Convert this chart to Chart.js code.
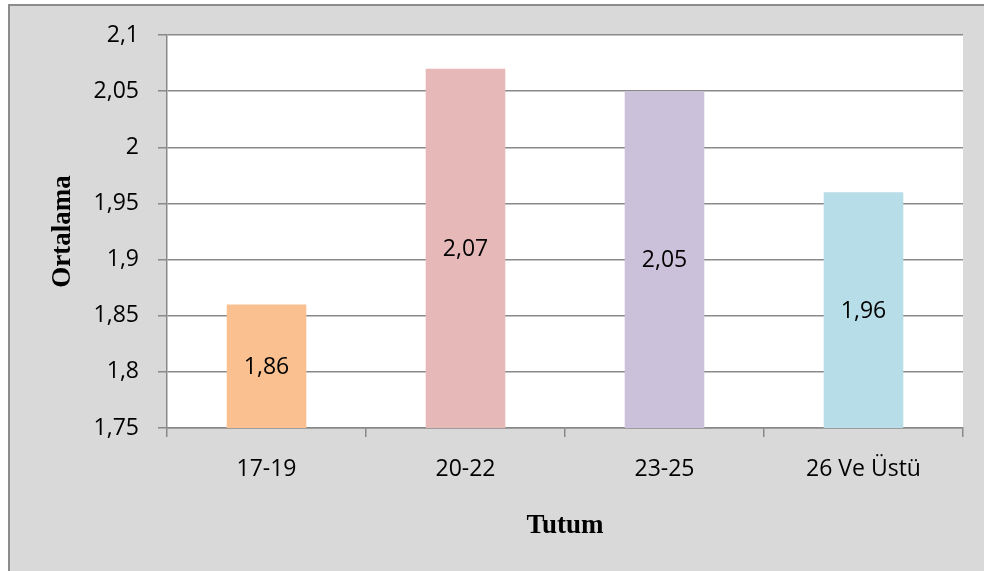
<!DOCTYPE html>
<html>
<head>
<meta charset="utf-8">
<script src="https://cdn.jsdelivr.net/npm/chart.js@4/dist/chart.umd.min.js"></script>
<style>
  html, body { margin: 0; padding: 0; background: #ffffff; }
  #wrap { position: absolute; left: 0; top: 0; width: 984px; height: 571px; }
</style>
</head>
<body>
<div id="wrap"><canvas id="c" width="984" height="571"></canvas></div>
<script>
// Age groups and their mean scores
const categories = ['17-19', '20-22', '23-25', '26 Ve Üstü'];
const means = [1.86, 2.07, 2.05, 1.96];
const barColors = ['#FAC090', '#E6B9B8', '#CCC1DA', '#B7DEE8'];
const yTitle = 'Ortalama';
const xTitle = 'Tutum';
const yMin = 1.75, yMax = 2.1, yStep = 0.05;

const fmt = v => String(Math.round(v * 100) / 100).replace('.', ',');
const tickFont = { family: '"Open Sans", sans-serif', size: 23 };
const gridColor = '#898989';

// Grey frame, white plot area, titles and value labels
const decor = {
  id: 'decor',
  beforeDraw(chart) {
    const { ctx, chartArea: a, width, height } = chart;
    ctx.save();
    ctx.fillStyle = '#ffffff';
    ctx.fillRect(0, 0, width, height);
    ctx.fillStyle = '#d9d9d9';
    ctx.fillRect(8, 4, width - 8, height - 4);
    ctx.strokeStyle = '#8c8c8c';
    ctx.lineWidth = 2;
    ctx.beginPath();
    ctx.moveTo(9, height);
    ctx.lineTo(9, 5);
    ctx.lineTo(width, 5);
    ctx.stroke();
    ctx.fillStyle = '#ffffff';
    ctx.fillRect(a.left, a.top, a.right - a.left, a.bottom - a.top);
    ctx.restore();
  },
  afterDraw(chart) {
    const { ctx, chartArea: a } = chart;
    const meta = chart.getDatasetMeta(0);
    const yScale = chart.scales.y;
    ctx.save();
    ctx.fillStyle = '#000000';
    ctx.font = '23px "Open Sans", sans-serif';
    ctx.textAlign = 'center';
    ctx.textBaseline = 'middle';
    meta.data.forEach((bar, i) => {
      const top = yScale.getPixelForValue(means[i]);
      const bottom = yScale.getPixelForValue(yMin);
      ctx.fillText(fmt(means[i]), bar.x, (top + bottom) / 2 + 1);
    });
    ctx.font = 'bold 27px "Liberation Serif", "Times New Roman", serif';
    ctx.textBaseline = 'alphabetic';
    ctx.fillText(xTitle, (a.left + a.right) / 2, 533);
    ctx.translate(70, (a.top + a.bottom) / 2);
    ctx.rotate(-Math.PI / 2);
    ctx.fillText(yTitle, 0, 0);
    ctx.restore();
  }
};

new Chart(document.getElementById('c'), {
  type: 'bar',
  data: {
    labels: categories,
    datasets: [{
      data: means,
      backgroundColor: barColors,
      borderWidth: 0,
      categoryPercentage: 1,
      barPercentage: 0.4
    }]
  },
  options: {
    responsive: false,
    animation: false,
    devicePixelRatio: 1,
    layout: { padding: { top: 35, right: 21, left: 0, bottom: 0 } },
    plugins: { legend: { display: false }, tooltip: { enabled: false } },
    scales: {
      x: {
        afterFit: s => { s.height = 143; },
        grid: { drawOnChartArea: false, drawTicks: true, tickLength: 9, color: gridColor, lineWidth: 1.5, offset: true },
        border: { color: gridColor, width: 1.5 },
        ticks: { color: '#000000', font: tickFont, padding: 19, maxRotation: 0 }
      },
      y: {
        min: yMin,
        max: yMax,
        afterFit: s => { s.width = 167; },
        grid: { color: gridColor, lineWidth: 1.5, tickLength: 9, drawTicks: true },
        border: { color: gridColor, width: 1.5 },
        ticks: { stepSize: yStep, color: '#000000', font: tickFont, padding: 19, callback: v => fmt(v) }
      }
    }
  },
  plugins: [decor]
});
</script>
</body>
</html>
